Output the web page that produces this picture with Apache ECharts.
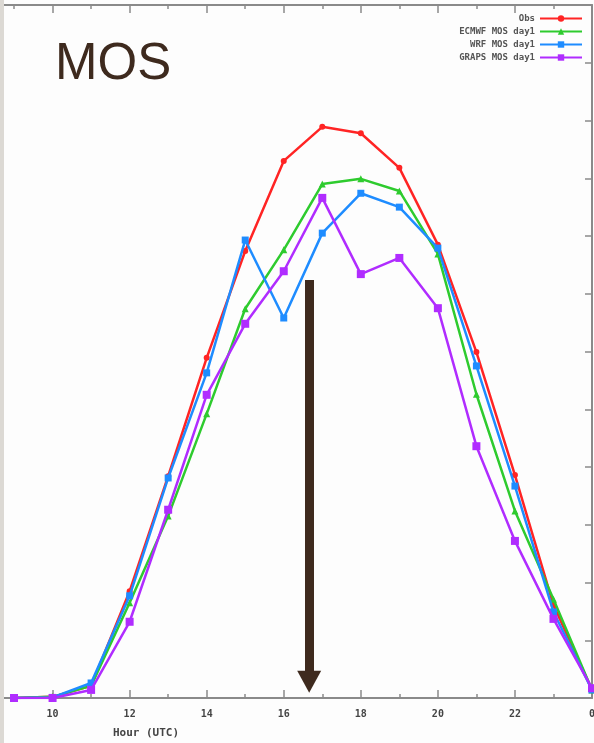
<!DOCTYPE html>
<html>
<head>
<meta charset="utf-8">
<script src="https://cdn.jsdelivr.net/npm/echarts@6/dist/echarts.min.js"></script>
<style>
html,body{margin:0;padding:0;background:#fdfdfd;}
#chart{width:594px;height:743px;}
</style>
</head>
<body>
<div id="chart"></div>
<script>
// Hours (UTC); 24 is shown as "0"
const hours = [9,10,11,12,13,14,15,16,17,18,19,20,21,22,23,24];
const seriesNames = ['Obs', 'ECMWF MOS day1', 'WRF MOS day1', 'GRAPS MOS day1'];
const obs   = [0, 2, 21, 185, 384, 589, 774, 930, 989, 978, 918, 785, 599, 386, 161, 14];
const mosA  = [0, 2, 21, 165, 315, 492, 674, 776, 890, 899, 878, 769, 526, 324, 171, 14];
const wrf   = [0, 1, 26, 177, 381, 563, 793, 658, 805, 874, 850, 779, 575, 367, 149, 14];
const mosB  = [0, 0, 14, 132, 326, 525, 648, 739, 866, 734, 762, 675, 436, 272, 137, 17];
const xTickLabels = {10:'10',12:'12',14:'14',16:'16',18:'18',20:'20',22:'22',24:'0'};
const arrowHour = 16.66, arrowTop = 724, arrowEnd = 28;

const colors = ['#ff2424', '#2ecb2e', '#1e8cff', '#b02cff'];
const symbols = ['circle', 'triangle', 'rect', 'rect'];
const symSizes = [6, 7, 7, 8];
const allVals = [obs, mosA, wrf, mosB];

const chart = echarts.init(document.getElementById('chart'));
const axisCol = '#8a8a8a';
const monoFont = '"DejaVu Sans Mono", monospace';

const series = allVals.map((vals, i) => ({
  name: seriesNames[i],
  type: 'line',
  data: hours.map((h, j) => [h, vals[j]]),
  symbol: symbols[i],
  symbolSize: symSizes[i],
  showAllSymbol: true,
  lineStyle: {color: colors[i], width: 2.5},
  itemStyle: {color: colors[i]},
  z: 3 + i,
  animation: false
}));
series[0].markLine = {
  silent: true,
  animation: false,
  symbol: ['none', 'triangle'],
  symbolSize: [24, 22],
  label: {show: false},
  lineStyle: {color: '#3e2a1e', width: 9, type: 'solid'},
  data: [[{coord: [arrowHour, arrowTop]}, {coord: [arrowHour, arrowEnd]}]]
};

chart.setOption({
  animation: false,
  backgroundColor: '#fdfdfd',
  grid: {left: -24.5, right: 2, top: 5, bottom: 45, outerBoundsMode: 'none', containLabel: false},
  legend: {
    orient: 'vertical',
    right: 11,
    top: 14,
    padding: 0,
    align: 'right',
    itemWidth: 42,
    itemHeight: 8,
    itemGap: 4.0,
    textStyle: {fontFamily: monoFont, fontWeight: 'bold', fontSize: 9, color: '#555'},
    data: seriesNames
  },
  xAxis: [{
    type: 'value', min: 8, max: 24, interval: 2, position: 'bottom',
    axisLine: {show: true, onZero: false, lineStyle: {color: axisCol, width: 2}},
    axisTick: {show: true, inside: true, length: 8, lineStyle: {color: axisCol, width: 1.5}},
    minorTick: {show: true, splitNumber: 2, length: 4, lineStyle: {color: axisCol, width: 1.5}},
    axisLabel: {
      show: true, margin: 11, showMaxLabel: true, hideOverlap: false,
      fontFamily: monoFont, fontWeight: 'bold', fontSize: 10, color: '#444',
      formatter: v => xTickLabels[v] || ''
    },
    splitLine: {show: false}
  }, {
    type: 'value', min: 8, max: 24, interval: 2, position: 'top',
    axisLine: {show: true, onZero: false, lineStyle: {color: axisCol, width: 2}},
    axisTick: {show: true, inside: true, length: 8, lineStyle: {color: axisCol, width: 1.5}},
    minorTick: {show: true, splitNumber: 2, length: 4, lineStyle: {color: axisCol, width: 1.5}},
    axisLabel: {show: false},
    splitLine: {show: false}
  }],
  yAxis: {
    type: 'value', min: 0, max: 1200, interval: 100, position: 'right',
    axisLine: {show: true, onZero: false, lineStyle: {color: axisCol, width: 2}},
    axisTick: {show: true, inside: true, length: 7, lineStyle: {color: axisCol, width: 1.5}},
    axisLabel: {show: false},
    splitLine: {show: false}
  },
  series: series,
  graphic: [
    {type: 'rect', left: 0, top: 0, z: 100, shape: {width: 4, height: 743}, style: {fill: '#dcd9d4'}},
    {type: 'text', z: 100, style: {text: 'MOS', x: 55, y: 65, verticalAlign: 'middle', align: 'left',
      font: '51px "Liberation Sans", Arial, sans-serif', fill: '#3e2a1e'}},
    {type: 'text', z: 100, style: {text: 'Hour (UTC)', x: 146, y: 733, verticalAlign: 'middle', align: 'center',
      font: 'bold 11px "DejaVu Sans Mono", monospace', fill: '#444'}}
  ]
});
</script>
</body>
</html>
